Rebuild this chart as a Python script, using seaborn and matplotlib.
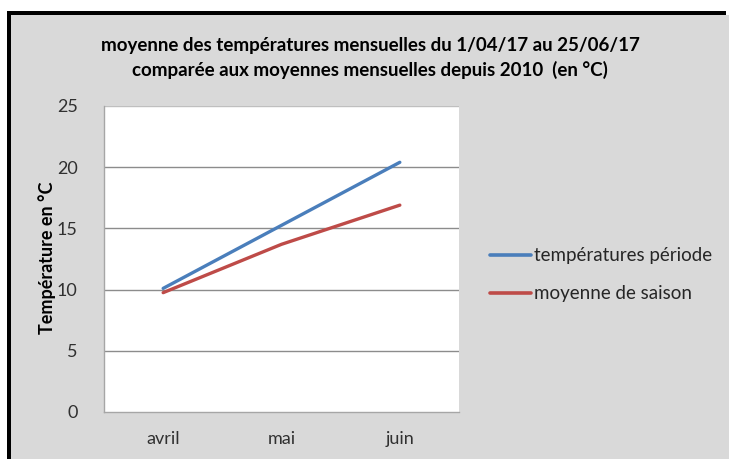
import matplotlib
matplotlib.use("Agg")
import matplotlib.pyplot as plt
import seaborn as sns
import pandas as pd
from matplotlib.patches import Rectangle

months = ["avril", "mai", "juin"]
temp_periode = [10.1, 15.25, 20.4]
moyenne_saison = [9.75, 13.7, 16.9]
series_names = ["températures période", "moyenne de saison"]
y_ticks = [0, 5, 10, 15, 20, 25]

df = pd.DataFrame({
    "mois": months * 2,
    "valeur": temp_periode + moyenne_saison,
    "serie": [series_names[0]] * 3 + [series_names[1]] * 3,
})

sns.set_theme(style="white")
plt.rcParams['font.family'] = ['Lato', 'DejaVu Sans']

fig = plt.figure(figsize=(7.29, 4.59), dpi=100)
fig.patch.set_facecolor("white")
W, H = 729, 459
# gray chart area with black top/left border
fig.patches.append(Rectangle((11 / W, 0), 1 - 11 / W, 1 - 15 / H, transform=fig.transFigure,
                             facecolor="#d9d9d9", edgecolor="none", zorder=-3))
fig.patches.append(Rectangle((7 / W, 0), 4 / W, 1 - 11 / H, transform=fig.transFigure,
                             facecolor="black", edgecolor="none", zorder=-2))
fig.patches.append(Rectangle((7 / W, 1 - 15 / H), 1 - 10 / W, 4 / H, transform=fig.transFigure,
                             facecolor="black", edgecolor="none", zorder=-2))

ax = fig.add_axes([104 / W, (H - 412) / H, (459 - 104) / W, (412 - 106) / H])
ax.set_zorder(1)
ax.set_facecolor("white")

palette = {series_names[0]: "#4a7ebb", series_names[1]: "#be4b48"}
sns.lineplot(data=df, x="mois", y="valeur", hue="serie", palette=palette,
             linewidth=2.4, ax=ax, sort=False, legend=False)

ax.set_xlim(-0.5, 2.5)
ax.set_ylim(0, 25)
ax.set_yticks(y_ticks)
ax.set_yticklabels([str(t) for t in y_ticks])
ax.set_xticks(range(len(months)))
ax.set_xticklabels(months)
ax.tick_params(axis="both", length=0, labelsize=13, labelcolor="#303030")
ax.tick_params(axis="y", pad=19)
ax.tick_params(axis="x", pad=14)
for v in y_ticks[1:-1]:
    ax.axhline(v, color="#8c8c8c", linewidth=1.0, zorder=0.5)
for s in ["top", "right"]:
    ax.spines[s].set_visible(False)
ax.spines["left"].set_color("#a6a6a6")
ax.spines["bottom"].set_color("#a6a6a6")
ax.spines["left"].set_linewidth(1.0)
ax.spines["bottom"].set_linewidth(1.0)
ax.axhline(25, color="#bfbfbf", linewidth=1.0)
ax.set_xlabel("")
ax.set_ylabel("Température en °C", fontsize=13, fontweight="bold", color="black")
ax.yaxis.set_label_coords((56 - 104) / 355, (412 - 258) / 306)

fig.text(370 / W, 1 - 45 / H, "moyenne des températures mensuelles du 1/04/17 au 25/06/17",
         ha="center", va="center", fontsize=13.5, fontweight="bold", color="black")
fig.text(370 / W, 1 - 70 / H, "comparée aux moyennes mensuelles depuis 2010  (en °C)",
         ha="center", va="center", fontsize=13.5, fontweight="bold", color="black")

# legend
for i, name in enumerate(series_names):
    yy = 1 - (255 + 38 * i) / H
    fig.add_artist(plt.Line2D([490 / W, 531 / W], [yy, yy], transform=fig.transFigure,
                              color=palette[name], linewidth=2.6))
    fig.text(534 / W, yy, name, ha="left", va="center", fontsize=13.5, color="#262626")

fig.savefig("out.png", dpi=100)
